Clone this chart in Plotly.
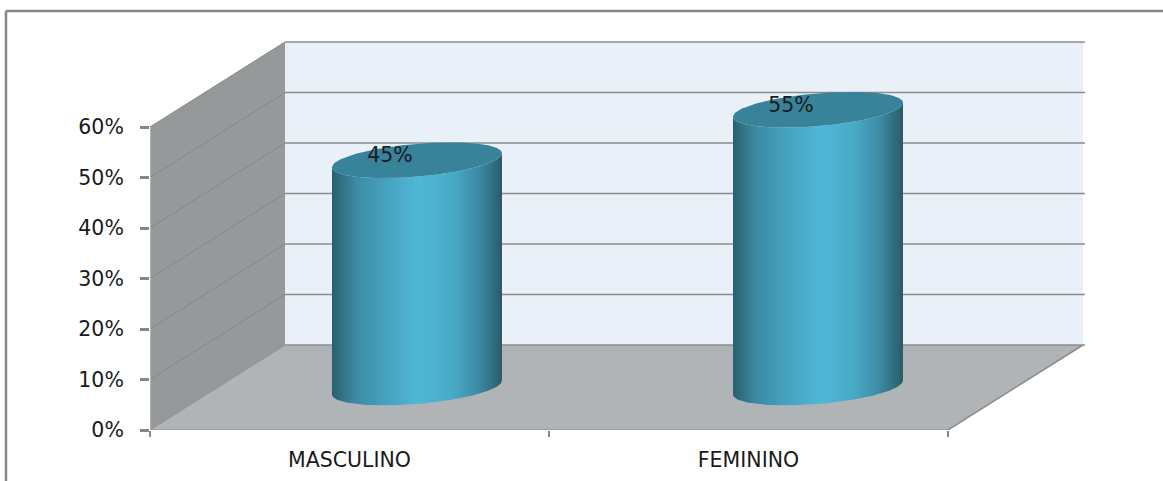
import numpy as np
import plotly.graph_objects as go

categories = ["MASCULINO", "FEMININO"]
values = [45, 55]
value_labels = ["45%", "55%"]
y_ticks = [0, 10, 20, 30, 40, 50, 60]
y_tick_labels = ["0%", "10%", "20%", "30%", "40%", "50%", "60%"]

W, H = 1163, 481
L, R, T, B = 150, 1085, 41, 430
PX_CAT = 399.0          # pixels per category
PX_VAL = 5.05           # pixels per percentage point
DX = 135 / PX_CAT       # depth offset, in category units
DY = 85 / PX_VAL        # depth offset, in value units
X_MAX = (R - L) / PX_CAT
Y_MAX = (B - T) / PX_VAL
Y_TOP = y_ticks[-1]

# cylinder shape, in axis units
RX = 85 / PX_CAT
RY = 16.5 / PX_VAL
TILT = 7 / PX_VAL
SPACING = 401 / PX_CAT

GRID = "#8c8c8c"
FONT = "DejaVu Sans"

fig = go.Figure()


def poly(xs, ys, color):
    fig.add_trace(go.Scatter(x=xs, y=ys, mode="lines", fill="toself", fillcolor=color,
                             line=dict(width=0), hoverinfo="skip", showlegend=False))


def line(xs, ys, color=GRID, width=1.5):
    fig.add_trace(go.Scatter(x=xs, y=ys, mode="lines", line=dict(color=color, width=width),
                             hoverinfo="skip", showlegend=False))


n = len(categories)
# walls and floor
poly([DX, n + DX, n + DX, DX, DX], [DY, DY, Y_TOP + DY, Y_TOP + DY, DY], "#e9f0f7")
poly([0, DX, DX, 0, 0], [0, DY, Y_TOP + DY, Y_TOP, 0], "#959999")
poly([0, n, n + DX, DX, 0], [0, 0, DY, DY, 0], "#b0b4b6")

# gridlines
for v in y_ticks:
    if v > 0:
        line([0, DX], [v, v + DY], "#84888a", 1)
    line([DX, n + DX + 0.005], [v + DY, v + DY], GRID, 1.5)

# edges
line([0, 0], [0, Y_TOP], "#b4b4b4", 2)
line([0, DX], [0, DY], "#8a8e8f", 1)
line([0, n], [0, 0], "#a0a0a0", 2)
line([n, n + DX], [0, DY], GRID, 1.5)

# cylinders
t = np.linspace(0, 2 * np.pi, 181)
half = np.linspace(0, np.pi, 91)
BODY = [[0.0, "#2a5e70"], [0.05, "#31707f"], [0.14, "#3c8ba3"], [0.35, "#48a6c3"],
        [0.52, "#4fb8d7"], [0.72, "#47a9c6"], [0.86, "#3c8ba4"], [0.96, "#2e6a7c"], [1.0, "#28596a"]]
for i, (val, lab) in enumerate(zip(values, value_labels)):
    cx = 0.5 + DX / 2 + i * SPACING
    cy0 = DY / 2
    cy1 = cy0 + val
    bx = cx + RX * np.cos(half)
    by = cy0 + TILT * np.cos(half) - RY * np.sin(half)
    tx = cx + RX * np.cos(half[::-1])
    ty = cy1 + TILT * np.cos(half[::-1]) - RY * np.sin(half[::-1])
    fig.add_trace(go.Scatter(
        x=np.r_[bx, tx, bx[:1]], y=np.r_[by, ty, by[:1]], mode="lines", fill="toself",
        line=dict(width=0), hoverinfo="skip", showlegend=False,
        fillgradient=dict(type="horizontal", colorscale=BODY)))
    # top cap
    poly(cx + RX * np.cos(t), cy1 + TILT * np.cos(t) + RY * np.sin(t), "#38829a")
    # value label
    fig.add_trace(go.Scatter(
        x=[cx - 27 / PX_CAT], y=[cy1 + 3 / PX_VAL], mode="text", text=[lab],
        textposition="middle center", textfont=dict(family=FONT, size=20.5, color="#1a1a1a"),
        hoverinfo="skip", showlegend=False))

fig.update_layout(
    width=W, height=H, autosize=False,
    margin=dict(l=L, r=W - R, t=T, b=H - B, pad=0, autoexpand=False),
    paper_bgcolor="white", plot_bgcolor="rgba(0,0,0,0)", showlegend=False,
    xaxis=dict(range=[0, X_MAX], tickmode="array", tickvals=[0.5, 1.5], ticktext=categories,
               ticks="", showgrid=False, zeroline=False, showline=False, fixedrange=True,
               automargin=False, ticklabelstandoff=15,
               tickfont=dict(family=FONT, size=20.5, color="#1a1a1a"),
               minor=dict(tickmode="array", tickvals=[0, 1, 2], ticks="outside", ticklen=6,
                          tickwidth=2, tickcolor="#868686", showgrid=False)),
    yaxis=dict(range=[0, Y_MAX], tickmode="array", tickvals=y_ticks, ticktext=y_tick_labels,
               ticks="outside", ticklen=9, tickwidth=2.5, tickcolor="#868686",
               showgrid=False, zeroline=False, showline=False, fixedrange=True,
               automargin=False, ticklabelstandoff=12,
               tickfont=dict(family=FONT, size=20.5, color="#1a1a1a")),
    shapes=[
        dict(type="line", xref="paper", yref="paper", layer="above",
             x0=(6 - L) / (R - L), x1=(W - L) / (R - L),
             y0=(B - 11) / (B - T), y1=(B - 11) / (B - T),
             line=dict(color="#868686", width=2.5)),
        dict(type="line", xref="paper", yref="paper", layer="above",
             x0=(6 - L) / (R - L), x1=(6 - L) / (R - L),
             y0=(B - 11) / (B - T), y1=(B - H) / (B - T),
             line=dict(color="#868686", width=2.5)),
    ],
)

fig.write_html("out.html", config=dict(displayModeBar=False),
               post_script="document.body.style.margin='0';document.body.style.overflow='hidden';")
